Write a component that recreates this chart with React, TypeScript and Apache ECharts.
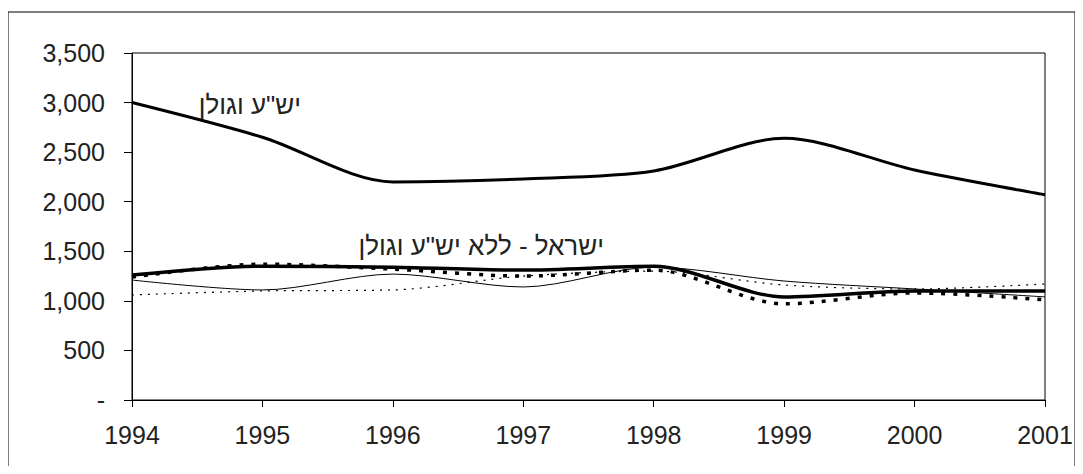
import React, { useEffect, useRef } from "react";
import * as echarts from "echarts";

const years = ["1994", "1995", "1996", "1997", "1998", "1999", "2000", "2001"];
const settlements = [3000, 2650, 2200, 2230, 2310, 2640, 2320, 2070];
const israelNoSettlements = [1260, 1350, 1340, 1310, 1350, 1040, 1100, 1100];
const thickDotted = [1240, 1370, 1320, 1250, 1310, 970, 1080, 1010];
const thinSolid = [1210, 1110, 1270, 1140, 1340, 1200, 1120, 1040];
const thinDotted = [1060, 1100, 1110, 1250, 1300, 1160, 1120, 1170];
const labelSettlements = 'יש"ע וגולן';
const labelIsrael = 'ישראל - ללא יש"ע וגולן';

const FONT = "Liberation Sans";

export default function App() {
  const ref = useRef<HTMLDivElement>(null);
  useEffect(() => {
    if (!ref.current) return;
    const chart = echarts.init(ref.current, undefined, { renderer: "svg" });
    const line = (data: number[], width: number, type: any) => ({
      type: "line",
      data,
      smooth: 0.3,
      symbol: "none",
      lineStyle: { color: "#000", width, type },
      z: 3,
    });
    chart.setOption({
      animation: false,
      backgroundColor: "#fff",
      grid: {
        left: 132,
        top: 53,
        right: 38,
        bottom: 74,
        show: true,
        borderColor: "#000",
        borderWidth: 1,
      },
      xAxis: {
        type: "category",
        data: years,
        boundaryGap: false,
        axisLine: { lineStyle: { color: "#000", width: 1 } },
        axisTick: { show: true, length: 7, lineStyle: { color: "#000" } },
        axisLabel: { color: "#222", fontFamily: FONT, fontSize: 25, margin: 22 },
        splitLine: { show: false },
      },
      yAxis: {
        type: "value",
        min: 0,
        max: 3500,
        interval: 500,
        axisLine: { show: true, lineStyle: { color: "#000", width: 1 } },
        axisTick: { show: true, length: 8, lineStyle: { color: "#000" } },
        axisLabel: {
          color: "#222",
          fontFamily: FONT,
          fontSize: 25,
          margin: 27,
          formatter: (v: number) => (v === 0 ? "-" : v.toLocaleString("en-US")),
        },
        splitLine: { show: false },
      },
      graphic: [
        {
          type: "rect",
          shape: { x: 8, y: 12, width: 1067, height: 480 },
          style: { fill: "none", stroke: "#000", lineWidth: 1 },
          silent: true,
        },
        {
          type: "text",
          x: 301,
          y: 105,
          style: {
            text: labelSettlements,
            font: `26px "${FONT}"`,
            fill: "#222",
            align: "right",
            verticalAlign: "middle",
          },
        },
        {
          type: "text",
          x: 604,
          y: 246,
          style: {
            text: labelIsrael,
            font: `26px "${FONT}"`,
            fill: "#222",
            align: "right",
            verticalAlign: "middle",
          },
        },
      ],
      series: [
        line(settlements, 3, "solid"),
        line(israelNoSettlements, 3.5, "solid"),
        line(thickDotted, 3.5, [4, 8]),
        line(thinSolid, 1, "solid"),
        line(thinDotted, 1.2, [2, 6]),
      ],
    });
    return () => chart.dispose();
  }, []);
  return (
    <div
      ref={ref}
      style={{ width: 1083, height: 474, margin: -8, position: "relative" }}
    />
  );
}
